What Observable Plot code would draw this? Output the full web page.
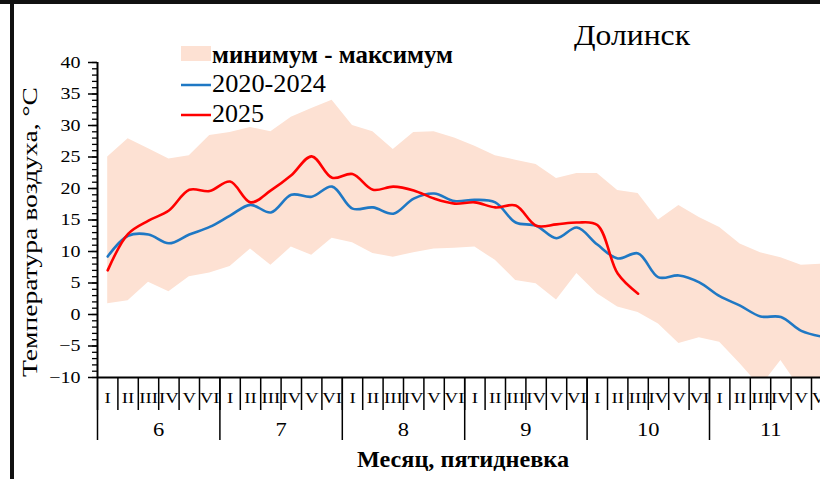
<!DOCTYPE html>
<html><head><meta charset="utf-8">
<script src="https://cdn.jsdelivr.net/npm/d3@7"></script>
<script src="https://cdn.jsdelivr.net/npm/@observablehq/plot@0.6"></script>
<style>
html,body{margin:0;padding:0;background:#fff;overflow:hidden;}
#wrap{position:relative;width:820px;height:479px;overflow:hidden;font-family:"Liberation Serif","Times New Roman",serif;}
#chart,#overlay{position:absolute;left:0;top:0;}
</style></head><body>
<div id="wrap"><div id="chart"></div><svg id="overlay" width="820" height="479"></svg></div>
<script>
const title = "Долинск";
const yLabel = "Температура воздуха, °C";
const xLabel = "Месяц, пятидневка";
const legendLabels = ["минимум - максимум", "2020-2024", "2025"];
const months = [6, 7, 8, 9, 10, 11];
const pentadLabels = ["I", "II", "III", "IV", "V", "VI"];
const yTicks = [-10, -5, 0, 5, 10, 15, 20, 25, 30, 35, 40];

const mean2020_2024 = [9.2,12.5,12.7,11.3,12.7,13.9, 15.7,17.4,16.2,19.0,18.7,20.3, 16.8,17.0,16.0,18.4,19.2,18.0, 18.2,17.8,14.6,14.1,12.1,13.8, 11.1,8.9,9.7,5.9,6.2,5.1, 2.9,1.4,-0.3,-0.4,-2.6,-3.5];
const year2025 = [7.0,12.8,14.9,16.5,19.8,19.6, 21.1,17.8,19.7,22.1,25.1,21.7, 22.3,19.8,20.3,19.7,18.4,17.6, 17.8,17.0,17.3,14.1,14.3,14.6, 14.2,6.5,3.3];
const maxT = [25.0,27.9,26.3,24.7,25.2,28.4, 28.9,29.7,29.0,31.3,32.7,34.0, 30.0,29.0,26.2,28.9,29.0,28.0, 26.7,25.2,24.5,23.8,21.6,22.4, 22.4,19.7,19.2,15.0,17.3,15.4, 13.8,11.2,9.8,9.0,7.8,8.0];
const minT = [1.7,2.2,5.1,3.6,6.0,6.6, 7.6,10.4,7.8,10.7,9.4,12.1, 11.4,9.7,9.1,9.8,10.4,10.5, 10.7,8.6,5.4,4.9,2.3,6.5, 3.3,1.2,0.3,-1.5,-4.6,-3.7, -4.4,-7.8,-11.5,-7.3,-12.0,-12.5];

const bandColor = "#fde1d3";
const blue = "#1f78c4";
const red = "#ff0000";

const band = maxT.map((hi, i) => ({x: i + 0.5, lo: minT[i], hi}));
const blueData = mean2020_2024.map((v, i) => ({x: i + 0.5, y: v}));
const redData = year2025.map((v, i) => ({x: i + 0.5, y: v}));
const nP = months.length * pentadLabels.length;

const chart = Plot.plot({
  width: 820, height: 479,
  marginLeft: 97, marginTop: 62, marginBottom: 102, marginRight: 0,
  style: {fontFamily: "Liberation Serif, Times New Roman, serif", color: "#000", background: "transparent"},
  x: {domain: [0, nP], range: [97, 97 + 20.4 * nP]},
  y: {domain: [-10, 40]},
  marks: [
    Plot.areaY(band, {x: "x", y1: "lo", y2: "hi", fill: bandColor, clip: true}),
    Plot.line(blueData, {x: "x", y: "y", stroke: blue, strokeWidth: 2.6, curve: "catmull-rom"}),
    Plot.line(redData, {x: "x", y: "y", stroke: red, strokeWidth: 2.6, curve: "catmull-rom"}),
    Plot.axisY(d3.range(-10, 41, 1), {tickSize: 5, text: null, label: null, strokeWidth: 1.3}),
    Plot.axisY(yTicks, {tickSize: 9, tickPadding: 8, fontSize: 16, label: null, strokeWidth: 1.5}),
    Plot.axisX(d3.range(0, nP + 1), {tickSize: 33, text: null, label: null, strokeWidth: 1.5}),
    Plot.axisX(d3.range(0, nP + 1, 6), {tickSize: 63, text: null, label: null, strokeWidth: 1.5}),
    Plot.axisX(d3.range(nP).map(i => i + 0.5), {tickSize: 0, tickPadding: 15, fontSize: 15, label: null,
      tickFormat: d => pentadLabels[Math.floor(d) % 6]}),
    Plot.axisX(months.map((m, k) => k * 6 + 3), {tickSize: 0, tickPadding: 46, fontSize: 18, label: null,
      tickFormat: d => String(months[(d - 3) / 6])}),
    Plot.ruleX([0], {stroke: "#000", strokeWidth: 2}),
    Plot.ruleY([-10], {stroke: "#000", strokeWidth: 2})
  ]
});
document.getElementById("chart").appendChild(chart);

// widen axis glyphs horizontally, like the original rendering
d3.select(chart).selectAll("g[aria-label$='tick label'] text").each(function() {
  const t = this.getAttribute("transform");
  if (t) this.setAttribute("transform", t + " scale(1.25,1)");
});

const o = d3.select("#overlay");
o.append("rect").attr("x", 0).attr("y", 0).attr("width", 820).attr("height", 4).attr("fill", "#111");
o.append("rect").attr("x", 10).attr("y", 0).attr("width", 4).attr("height", 479).attr("fill", "#111");
o.append("text").text(title).attr("x", 632).attr("y", 45).attr("text-anchor", "middle")
  .attr("font-size", 30).attr("textLength", 116).attr("lengthAdjust", "spacingAndGlyphs");
o.append("rect").attr("x", 181).attr("y", 46).attr("width", 30).attr("height", 15).attr("fill", bandColor);
o.append("text").text(legendLabels[0]).attr("x", 212).attr("y", 62.5).attr("font-size", 25).attr("font-weight", "bold")
  .attr("textLength", 241).attr("lengthAdjust", "spacingAndGlyphs");
o.append("line").attr("x1", 181).attr("x2", 211).attr("y1", 85).attr("y2", 85).attr("stroke", blue).attr("stroke-width", 2.5);
o.append("text").text(legendLabels[1]).attr("x", 212).attr("y", 91.5).attr("font-size", 26)
  .attr("textLength", 114).attr("lengthAdjust", "spacingAndGlyphs");
o.append("line").attr("x1", 181).attr("x2", 211).attr("y1", 115).attr("y2", 115).attr("stroke", red).attr("stroke-width", 2.5);
o.append("text").text(legendLabels[2]).attr("x", 212).attr("y", 122).attr("font-size", 26)
  .attr("textLength", 52).attr("lengthAdjust", "spacingAndGlyphs");
o.append("text").text(xLabel).attr("x", 463).attr("y", 467).attr("text-anchor", "middle")
  .attr("font-size", 24).attr("font-weight", "bold").attr("textLength", 212).attr("lengthAdjust", "spacingAndGlyphs");
o.append("text").text(yLabel).attr("transform", "translate(37,232) rotate(-90)").attr("text-anchor", "middle")
  .attr("font-size", 21).attr("textLength", 290).attr("lengthAdjust", "spacingAndGlyphs");
</script>
</body></html>
